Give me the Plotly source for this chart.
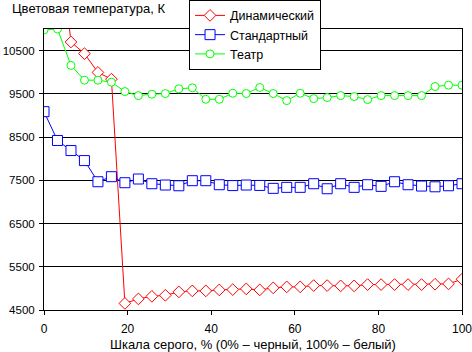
import plotly.graph_objects as go

x_vals = [i * 100 / 31 for i in range(32)]

dynamic = [None, 13500, 10700, 10430, 9995, 9840, 4653, 4756, 4816, 4840,
           4919, 4942, 4942, 4965, 4972, 4988, 4965, 5012, 5035, 5035,
           5065, 5065, 5058, 5058, 5088, 5088, 5088, 5088, 5088, 5096,
           5104, 5212]
standard = [9088, 8421, 8188, 7956, 7467, 7584, 7444, 7530, 7421, 7391,
            7374, 7491, 7491, 7398, 7378, 7391, 7381, 7314, 7337, 7337,
            7421, 7305, 7421, 7337, 7398, 7360, 7467, 7398, 7367, 7350,
            7374, 7421]
theatre = [10979, 11000, 10158, 9816, 9816, 9770, 9553, 9460, 9491, 9507,
           9616, 9640, 9374, 9374, 9514, 9507, 9647, 9507, 9344, 9514,
           9390, 9414, 9460, 9437, 9367, 9460, 9460, 9460, 9460, 9670,
           9700, 9700]

names = ["Динамический", "Стандартный", "Театр"]
colors = ["#FF0000", "#0000FF", "#00FF00"]
symbols = ["diamond", "square", "circle"]
sizes = [9, 10, 8]

fig = go.Figure()
for ys, name, c, sym, sz in zip([dynamic, standard, theatre], names, colors, symbols, sizes):
    fig.add_trace(go.Scatter(
        x=x_vals, y=ys, name=name, mode="lines+markers",
        line=dict(color=c, width=1),
        marker=dict(symbol=sym, size=sz, color="white",
                    line=dict(color=c, width=1)),
    ))

fam = "Liberation Sans, Arial, sans-serif"
font = dict(family=fam, size=12, color="black")
tfont = dict(family=fam, size=13, color="black")

fig.update_layout(
    width=472, height=352,
    margin=dict(l=44, r=10, t=29, b=42, autoexpand=False),
    paper_bgcolor="white", plot_bgcolor="white",
    font=font,
    showlegend=True,
    legend=dict(x=0.347, y=1.104, xanchor="left", yanchor="top",
                bgcolor="white", bordercolor="black", borderwidth=1,
                font=dict(family=fam, size=12.5, color="black"), tracegroupgap=0),
    xaxis=dict(range=[0, 100], dtick=20, tick0=0, showgrid=False,
               showline=True, linecolor="black", linewidth=1, mirror=True,
               ticks="outside", ticklen=4, tickcolor="black", zeroline=False,
               automargin=False, ticklabelstandoff=4, ticklabeloverflow="allow"),
    yaxis=dict(range=[4500, 11000], tick0=4500, dtick=1000, tickformat="d",
               showgrid=True, gridcolor="black", gridwidth=1,
               showline=True, linecolor="black", linewidth=1, mirror=True,
               ticks="outside", ticklen=4, tickcolor="black", zeroline=False,
               automargin=False, ticklabelstandoff=2, ticklabeloverflow="allow",
               tickfont=dict(family=fam, size=11.5, color="black")),
    annotations=[
        dict(text="Цветовая температура, К", xref="paper", yref="paper",
             x=-34/418, y=1.0, xanchor="left", yanchor="middle",
             yshift=21, showarrow=False, font=tfont),
        dict(text="Шкала серого, % (0% – черный, 100% – белый)", xref="paper", yref="paper",
             x=0.5, y=0.0, xanchor="center", yanchor="middle",
             yshift=-34, showarrow=False, font=tfont),
    ],
)

fig.write_html("out.html")
